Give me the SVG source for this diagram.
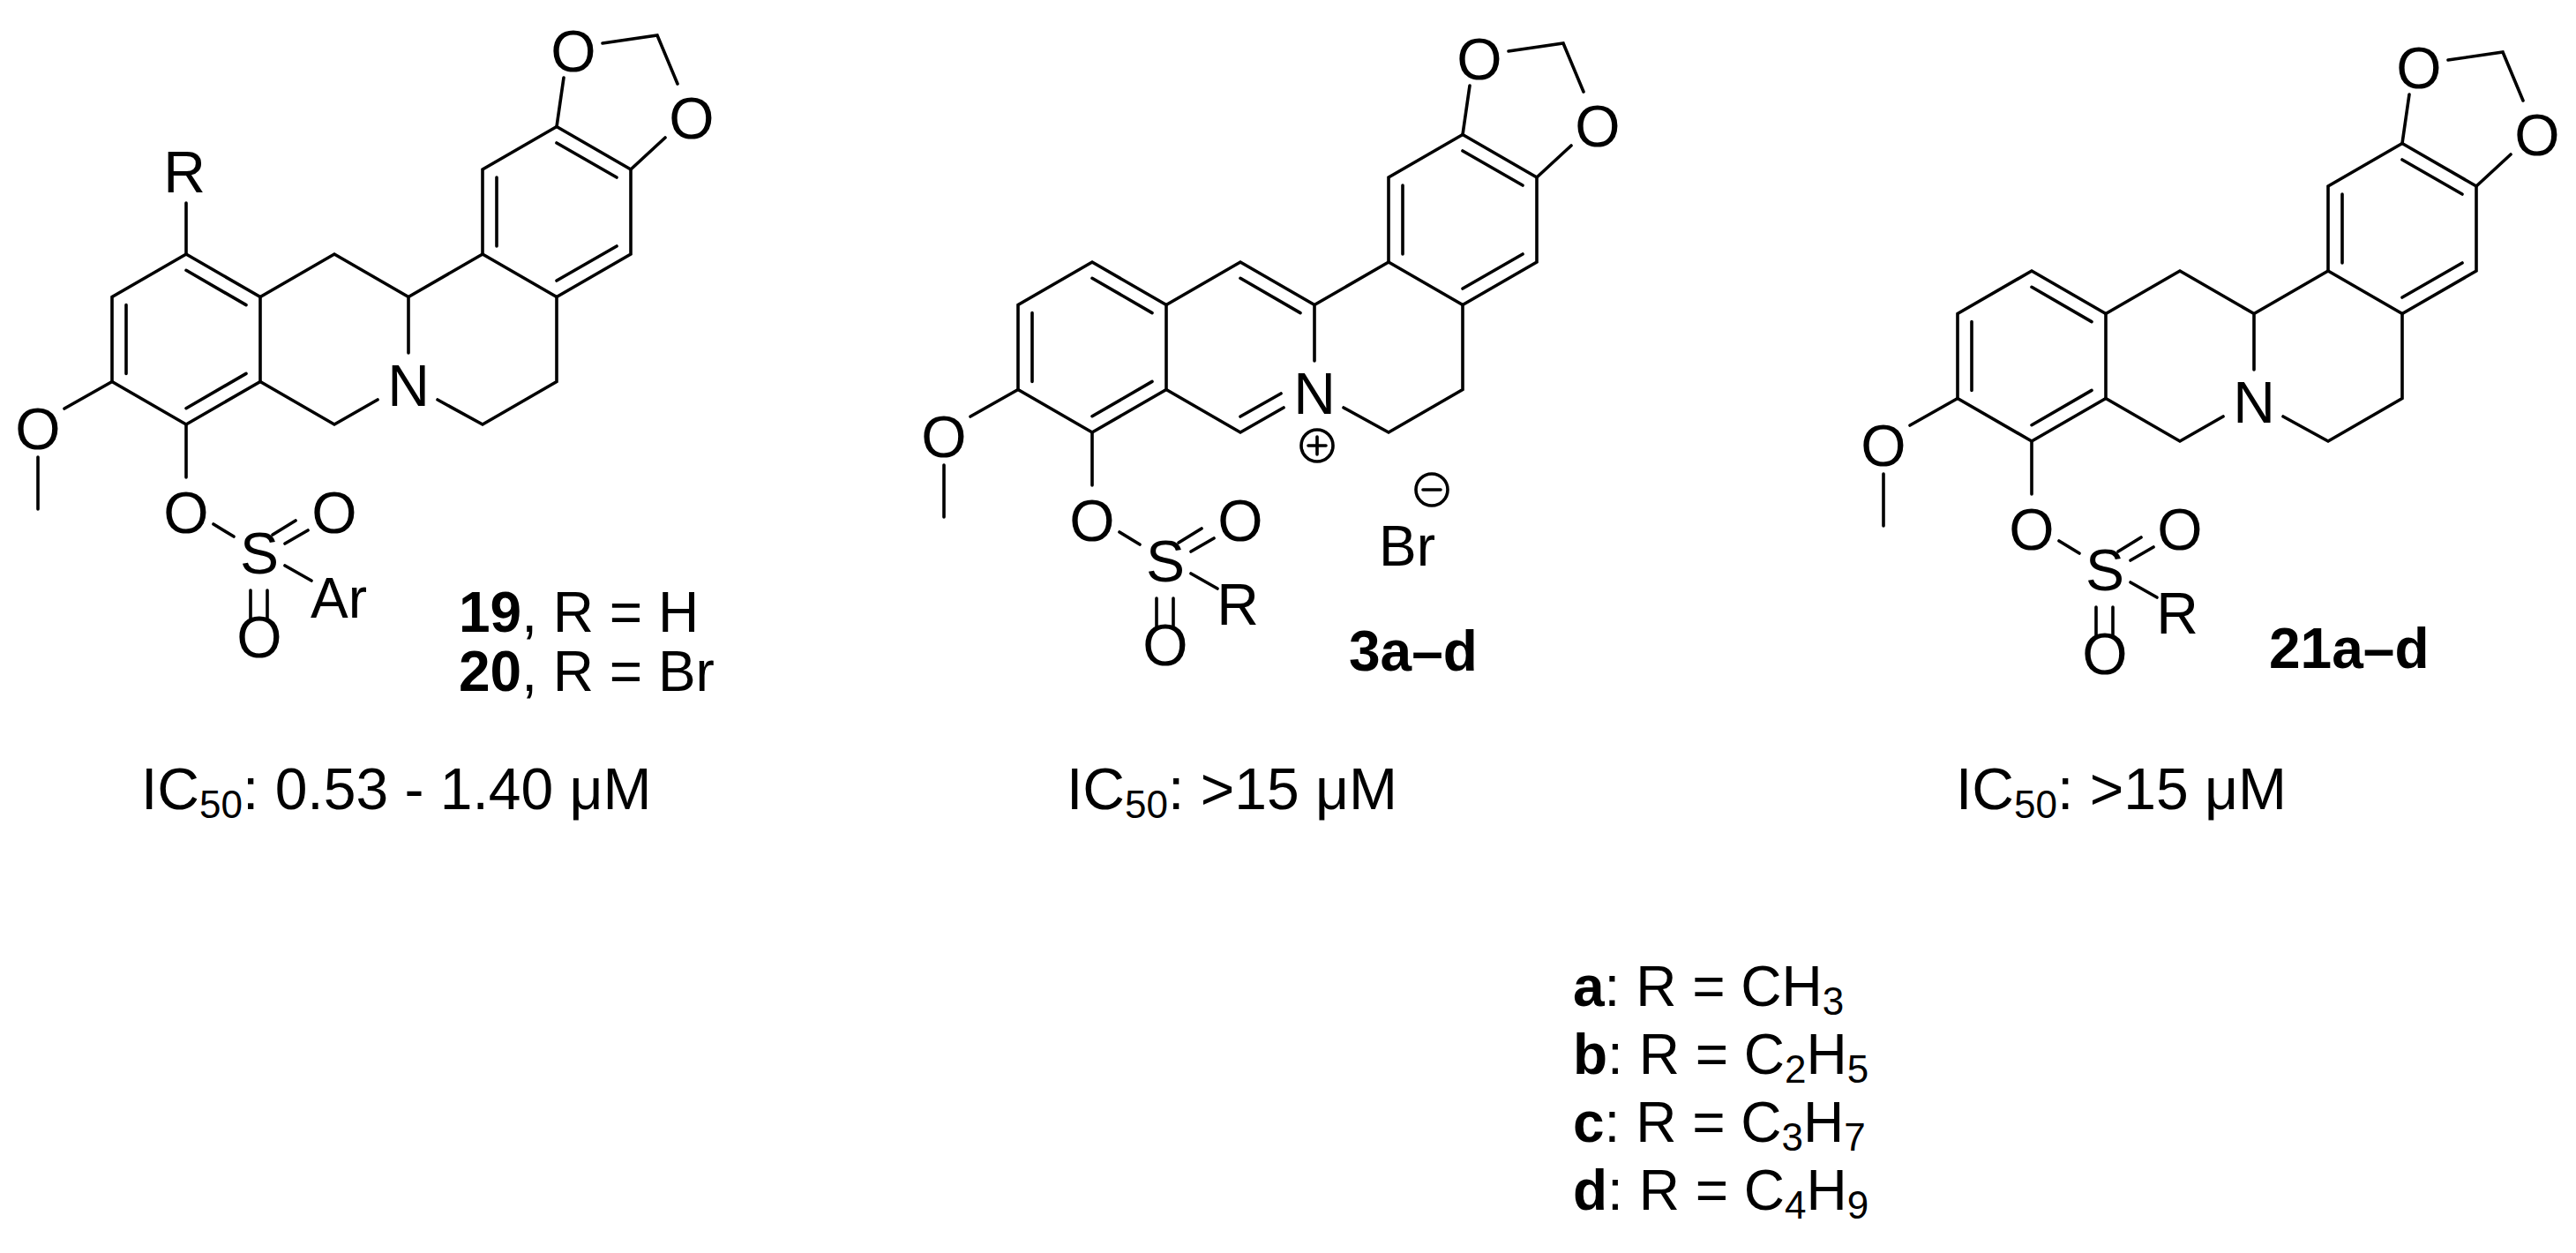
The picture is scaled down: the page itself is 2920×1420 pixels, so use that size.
<svg xmlns="http://www.w3.org/2000/svg" width="2920" height="1420" viewBox="0 0 2920 1420">
<style>
.b{stroke:#000;stroke-width:3.6;fill:none;stroke-linecap:round}
.a{font-family:"Liberation Sans",Arial,sans-serif;font-size:66px;text-anchor:middle;fill:#000}
.t{font-family:"Liberation Sans",Arial,sans-serif;font-size:64px;fill:#000}
.ic{font-size:66px}
.bd{font-weight:bold}
.sub{font-size:44px}
</style>
<defs>
<g id="core">
<path class="b" d="M211,288 L295,336.5 L295,432.5 L211,481 L127,432.5 L127,336.5 Z M143,345.6 L143,423.4 M279,423.4 L211,462.7 M211,306.3 L279,345.6"/>
<path class="b" d="M295,336.5 L379,288 L463,336.5 L463,400 M295,432.5 L379,481 L428,453 M496,453 L547,481 L631,432.5 L631,336.5 L547,288 L463,336.5"/>
<path class="b" d="M547,288 L547,192 L631,143.5 L715,192 L715,288 L631,336.5 M563,201 L563,279 M631,318 L699,279 M631,162 L699,201"/>
<path class="b" d="M631,143.5 L639,88 M683,49 L745,40 L768,95 M754,156 L715,192"/>
<text class="a" x="650" y="81">O</text>
<text class="a" x="784" y="157">O</text>
<text class="a" x="463" y="460">N</text>
<path class="b" d="M127,432.5 L73,463 M43,518 L43,577 M211,481 L211,541 M242,594 L265,608 M309,606 L335,590 M323,616 L349,601 M284,669 L284,703 M303,669 L303,703"/>
<text class="a" x="43" y="509">O</text>
<text class="a" x="211" y="604">O</text>
<text class="a" x="294" y="650">S</text>
<text class="a" x="379" y="604">O</text>
<text class="a" x="294" y="745">O</text>
</g>
</defs>
<g id="compound19-20">
<use href="#core"/>
<path class="b" d="M211,288 L211,230 M323,641 L353,658"/>
<text class="a" x="209" y="218">R</text>
<text class="t" x="352" y="700" font-size="66">Ar</text>
<text class="t" x="520" y="716"><tspan class="bd">19</tspan>, R = H</text>
<text class="t" x="520" y="783"><tspan class="bd">20</tspan>, R = Br</text>
<text class="t ic" x="160" y="917">IC<tspan class="sub" dy="10">50</tspan><tspan dy="-10">: 0.53 - 1.40 μM</tspan></text>
</g>
<g id="compound3">
<g transform="translate(1027,9)">
<use href="#core"/>
<path class="b" d="M379,306.3 L447,345.6 M379,463 L425,437 M323,641 L353,658"/>
<text class="a" x="376" y="699">R</text>
<circle class="b" cx="466" cy="496" r="18" stroke-width="2.5"/>
<path class="b" d="M456,496 H476 M466,486 V506" stroke-width="2.5"/>
</g>
<text class="t" x="1563" y="641" font-size="66">Br</text>
<circle class="b" cx="1623" cy="555" r="18" stroke-width="2.5"/>
<path class="b" d="M1613,555 H1633" stroke-width="2.5"/>
<text class="t bd" x="1529" y="760" font-size="68">3a–d</text>
<text class="t ic" x="1209" y="917">IC<tspan class="sub" dy="10">50</tspan><tspan dy="-10">: &gt;15 μM</tspan></text>
</g>
<g id="compound21">
<g transform="translate(2092,19)">
<use href="#core"/>
<path class="b" d="M323,641 L353,658"/>
<text class="a" x="376" y="699">R</text>
</g>
<text class="t bd" x="2572" y="757" font-size="68">21a–d</text>
<text class="t ic" x="2217" y="917">IC<tspan class="sub" dy="10">50</tspan><tspan dy="-10">: &gt;15 μM</tspan></text>
</g>
<g id="legend">
<text class="t" x="1783" y="1140"><tspan class="bd">a</tspan>: R = CH<tspan class="sub" dy="10">3</tspan></text>
<text class="t" x="1783" y="1217"><tspan class="bd">b</tspan>: R = C<tspan class="sub" dy="10">2</tspan><tspan dy="-10">H</tspan><tspan class="sub" dy="10">5</tspan></text>
<text class="t" x="1783" y="1294"><tspan class="bd">c</tspan>: R = C<tspan class="sub" dy="10">3</tspan><tspan dy="-10">H</tspan><tspan class="sub" dy="10">7</tspan></text>
<text class="t" x="1783" y="1371"><tspan class="bd">d</tspan>: R = C<tspan class="sub" dy="10">4</tspan><tspan dy="-10">H</tspan><tspan class="sub" dy="10">9</tspan></text>
</g>
</svg>
